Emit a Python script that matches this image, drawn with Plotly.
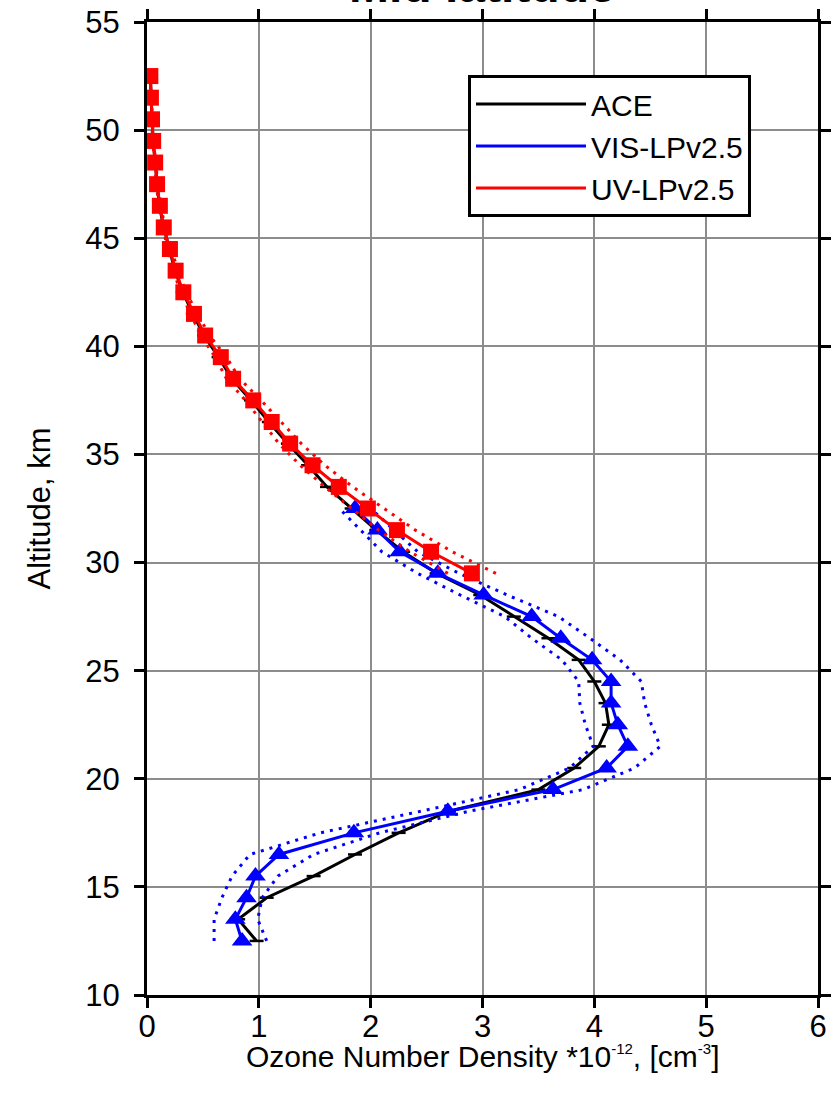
import plotly.graph_objects as go

# ---------------- data ----------------
alt_ace = [12.5, 13.5, 14.5, 15.5, 16.5, 17.5, 18.5, 19.5, 20.5, 21.5, 22.5,
           23.5, 24.5, 25.5, 26.5, 27.5, 28.5, 29.5, 30.5, 31.5, 32.5, 33.5,
           34.5, 35.5, 36.5, 37.5, 38.5, 39.5, 40.5, 41.5, 42.5, 43.5, 44.5,
           45.5, 46.5, 47.5, 48.5, 49.5, 50.5, 51.5, 52.5]
ace = [0.98, 0.815, 1.07, 1.49, 1.86, 2.25, 2.70, 3.50, 3.82, 4.04, 4.13,
       4.10, 4.00, 3.86, 3.59, 3.28, 2.98, 2.59, 2.29, 2.05, 1.83, 1.61,
       1.44, 1.26, 1.09, 0.93, 0.76, 0.64, 0.51, 0.41, 0.32, 0.25, 0.20,
       0.15, 0.11, 0.09, 0.07, 0.055, 0.045, 0.035, 0.03]

alt_vis = [12.5, 13.5, 14.5, 15.5, 16.5, 17.5, 18.5, 19.5, 20.5, 21.5, 22.5,
           23.5, 24.5, 25.5, 26.5, 27.5, 28.5, 29.5, 30.5, 31.5, 32.5]
vis = [0.85, 0.79, 0.89, 0.97, 1.18, 1.85, 2.69, 3.63, 4.11, 4.30, 4.21,
       4.15, 4.15, 3.98, 3.70, 3.44, 3.01, 2.60, 2.26, 2.06, 1.86]
vis_lo = [0.60, 0.60, 0.67, 0.76, 0.92, 1.55, 2.45, 3.33, 3.78, 3.99, 3.92,
          3.87, 3.86, 3.71, 3.44, 3.20, 2.80, 2.42, 2.10, 1.91, 1.72]
vis_hi = [1.07, 0.99, 1.03, 1.17, 1.49, 2.08, 2.88, 3.90, 4.36, 4.59, 4.51,
          4.45, 4.42, 4.23, 3.96, 3.68, 3.22, 2.79, 2.42, 2.21, 2.00]

alt_uv = [29.5, 30.5, 31.5, 32.5, 33.5, 34.5, 35.5, 36.5, 37.5, 38.5, 39.5,
          40.5, 41.5, 42.5, 43.5, 44.5, 45.5, 46.5, 47.5, 48.5, 49.5, 50.5,
          51.5, 52.5]
uv = [2.905, 2.54, 2.235, 1.975, 1.715, 1.48, 1.28, 1.115, 0.95, 0.77, 0.66,
      0.52, 0.42, 0.325, 0.256, 0.205, 0.15, 0.115, 0.09, 0.073, 0.055, 0.045,
      0.035, 0.03]
uv_lo = [2.69, 2.35, 2.07, 1.83, 1.59, 1.37, 1.18, 1.03, 0.88, 0.71, 0.61,
         0.48, 0.39, 0.30, 0.237, 0.19, 0.139, 0.106, 0.083, 0.068, 0.051, 0.042,
         0.032, 0.028]
uv_hi = [3.12, 2.73, 2.40, 2.12, 1.84, 1.59, 1.38, 1.20, 1.02, 0.83, 0.71,
         0.56, 0.45, 0.35, 0.275, 0.22, 0.161, 0.124, 0.097, 0.078, 0.059, 0.048,
         0.038, 0.032]

x_ticks = [0, 1, 2, 3, 4, 5, 6]
y_ticks = [10, 15, 20, 25, 30, 35, 40, 45, 50, 55]

BLUE = "#0000ff"
RED = "#ff0000"
DOT = "3px,6px"
FONT = "Liberation Sans, Arial, Helvetica, sans-serif"

fig = go.Figure()

# ACE
fig.add_trace(go.Scatter(x=ace, y=alt_ace, mode="lines", name="ACE",
                         line=dict(color="black", width=3)))
fig.add_trace(go.Scatter(x=ace, y=alt_ace, mode="markers", showlegend=False,
                         marker=dict(symbol="line-ew", size=10,
                                     line=dict(color="black", width=2.5))))

# VIS
fig.add_trace(go.Scatter(x=vis_lo, y=alt_vis, mode="lines", showlegend=False,
                         line=dict(color=BLUE, width=3, dash=DOT)))
fig.add_trace(go.Scatter(x=vis_hi, y=alt_vis, mode="lines", showlegend=False,
                         line=dict(color=BLUE, width=3, dash=DOT)))
fig.add_trace(go.Scatter(x=vis, y=alt_vis, mode="lines", name="VIS-LPv2.5",
                         line=dict(color=BLUE, width=3)))
fig.add_trace(go.Scatter(x=vis, y=alt_vis, mode="markers", showlegend=False,
                         marker=dict(symbol="triangle-up", size=18, color=BLUE,
                                     line=dict(width=0))))

# UV
fig.add_trace(go.Scatter(x=uv_lo, y=alt_uv, mode="lines", showlegend=False,
                         line=dict(color=RED, width=3, dash=DOT)))
fig.add_trace(go.Scatter(x=uv_hi, y=alt_uv, mode="lines", showlegend=False,
                         line=dict(color=RED, width=3, dash=DOT)))
fig.add_trace(go.Scatter(x=uv, y=alt_uv, mode="lines", name="UV-LPv2.5",
                         line=dict(color=RED, width=3)))
fig.add_trace(go.Scatter(x=uv, y=alt_uv, mode="markers", showlegend=False,
                         marker=dict(symbol="square", size=16, color=RED,
                                     line=dict(width=0))))

axis_common = dict(
    showline=True, linecolor="black", linewidth=3, mirror="ticks",
    ticks="outside", ticklen=10, tickwidth=2.5, tickcolor="black",
    showgrid=True, gridcolor="#8c8c8c", gridwidth=1.5,
    zeroline=False, tickfont=dict(family=FONT, size=31, color="black"),
)

fig.update_xaxes(range=[0, 6], tickvals=x_ticks, ticktext=[str(v) for v in x_ticks],
                 ticklabelstandoff=-8, **axis_common)
fig.update_yaxes(range=[10, 55], tickvals=y_ticks, ticktext=[str(v) for v in y_ticks],
                 ticklabelstandoff=8,
                 title=dict(text="Altitude, km",
                            font=dict(family=FONT, size=31, color="black"), standoff=26),
                 **axis_common)

# x-axis title (placed just under the tick labels, as in the reference)
fig.add_annotation(
    text=("Ozone Number Density *10<sup><span style='font-size:15px'>-12</span></sup>, "
          "[cm<sup><span style='font-size:15px'>-3</span></sup>]"),
    xref="paper", yref="paper", x=0.5, y=0, xanchor="center",
    yanchor="top", yshift=-43, showarrow=False,
    font=dict(family=FONT, size=30, color="black"))

fig.add_annotation(text="<b>Mid latitude</b>", xref="paper", yref="paper",
                   x=0.5, y=1, xanchor="center", yanchor="bottom", yshift=8,
                   showarrow=False, font=dict(family=FONT, size=48, color="black"))

fig.update_layout(
    width=837, height=1102,
    margin=dict(l=147, r=19, t=22, b=107, autoexpand=False),
    plot_bgcolor="white", paper_bgcolor="white",
    showlegend=True,
    legend=dict(x=(468 - 147) / 671, y=1 - (75 - 22) / 973,
                xanchor="left", yanchor="top",
                bordercolor="black", borderwidth=3, bgcolor="white",
                font=dict(family=FONT, size=30, color="black"),
                itemwidth=110, tracegroupgap=0),
)

fig.write_html("out.html")
